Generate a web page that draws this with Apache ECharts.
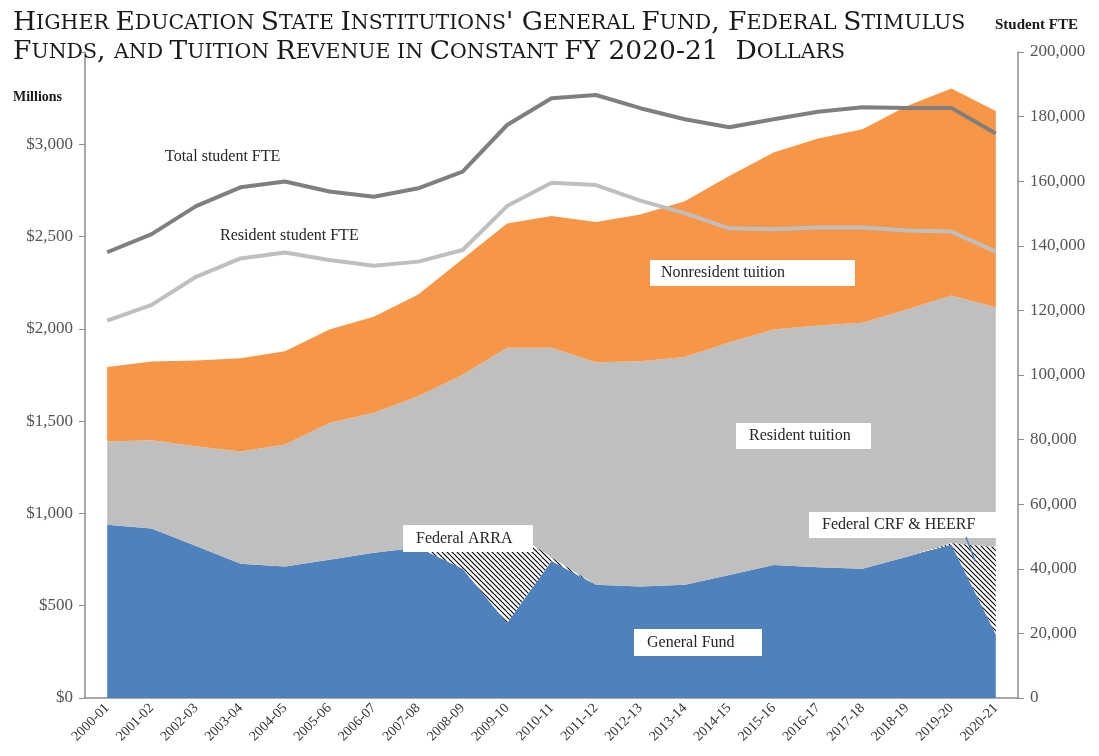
<!DOCTYPE html>
<html>
<head>
<meta charset="utf-8">
<script src="https://cdn.jsdelivr.net/npm/echarts@6/dist/echarts.min.js"></script>
<style>
  html, body { margin: 0; padding: 0; background: #fff; }
  #chart { width: 1099px; height: 756px; }
</style>
</head>
<body>
<div id="chart"></div>
<script>
const years = ["2000-01", "2001-02", "2002-03", "2003-04", "2004-05", "2005-06", "2006-07",
  "2007-08", "2008-09", "2009-10", "2010-11", "2011-12", "2012-13", "2013-14", "2014-15",
  "2015-16", "2016-17", "2017-18", "2018-19", "2019-20", "2020-21"];

// $ millions, stacked bottom to top
const generalFund = [938, 918, 823, 727, 712, 749, 787, 815, 700, 407, 742, 613, 604, 613, 667, 721, 709, 700, 765, 832, 345];
const federalStimulus = [0, 0, 0, 0, 0, 0, 0, 0, 110, 517, 20, 0, 0, 0, 0, 0, 0, 0, 0, 8, 473];
const residentTuition = [452, 478, 541, 609, 661, 741, 758, 820, 942, 973, 1135, 1206, 1220, 1235, 1259, 1275, 1309, 1333, 1340, 1341, 1299];
const nonresidentTuition = [404, 427, 464, 505, 506, 506, 520, 551, 627, 674, 714, 760, 796, 844, 902, 959, 1013, 1048, 1103, 1121, 1064];

// student FTE, right axis
const totalFTE = [138000, 143600, 152300, 158100, 159900, 156800, 155200, 157800, 163000, 177400, 185700, 186700, 182600, 179200, 176700, 179200, 181500, 182900, 182700, 182700, 174800];
const residentFTE = [116800, 121700, 130400, 136100, 137900, 135600, 133800, 135100, 138700, 152300, 159500, 158800, 154000, 150100, 145400, 145100, 145700, 145700, 144700, 144400, 138200];

const titleText = "Higher Education State Institutions' General Fund, Federal Stimulus\nFunds, and Tuition Revenue in Constant FY 2020-21  Dollars";

const serif = "'Liberation Serif', 'DejaVu Serif', serif";
const titleFont = "'DejaVu Serif', 'Liberation Serif', serif";
const axisGray = "#8c8c8c";

// fake small caps with rich text
function smallCaps(str) {
  let out = "";
  let cur = null, buf = "";
  for (const ch of str) {
    if (ch === "\n") {
      if (buf) out += "{" + cur + "|" + buf + "}";
      out += "\n"; buf = ""; cur = null;
      continue;
    }
    let cls = (ch >= "a" && ch <= "z") ? "s" : "b";
    if (ch === " " && cur) cls = cur;
    if (cls !== cur && buf) { out += "{" + cur + "|" + buf + "}"; buf = ""; }
    cur = cls;
    buf += ch.toUpperCase();
  }
  if (buf) out += "{" + cur + "|" + buf + "}";
  return out;
}

// diagonal hatch for the federal stimulus layer
function hatch() {
  const c = document.createElement("canvas");
  c.width = 5; c.height = 5;
  const g = c.getContext("2d");
  g.fillStyle = "#fff";
  g.fillRect(0, 0, 5, 5);
  g.strokeStyle = "#000";
  g.lineWidth = 1.1;
  g.beginPath();
  g.moveTo(-1, -1); g.lineTo(6, 6);
  g.moveTo(-1, 4); g.lineTo(1, 6);
  g.moveTo(4, -1); g.lineTo(6, 1);
  g.stroke();
  return c;
}

const labelFont = "16px " + serif;

function box(x, y, w, h, text, tx) {
  return [
    { type: "rect", z: 50, shape: { x: x, y: y, width: w, height: h }, style: { fill: "#fff" } },
    { type: "text", z: 51, x: x + (tx || 10), y: y + h / 2,
      style: { text: text, font: labelFont, fill: "#262626", verticalAlign: "middle" } }
  ];
}

const chart = echarts.init(document.getElementById("chart"));

function areaSeries(name, data, color) {
  return {
    name: name, type: "line", stack: "rev", data: data,
    symbol: "none", lineStyle: { width: 0 },
    areaStyle: { color: color, opacity: 1 },
    emphasis: { disabled: true }
  };
}

chart.setOption({
  animation: false,
  title: {
    left: 8, top: 4,
    text: smallCaps(titleText),
    textStyle: {
      fontFamily: titleFont, color: "#1a1a1a", fontWeight: "normal",
      rich: {
        b: { fontFamily: titleFont, fontSize: 26.5, lineHeight: 29, color: "#1a1a1a" },
        s: { fontFamily: titleFont, fontSize: 20.5, lineHeight: 29, color: "#1a1a1a" }
      }
    }
  },
  grid: { left: 85, right: 81, top: 52, bottom: 58 },
  xAxis: {
    type: "category", data: years, boundaryGap: true,
    axisLine: { lineStyle: { color: axisGray, width: 1.5 } },
    axisTick: { lineStyle: { color: axisGray }, length: 6 },
    axisLabel: { rotate: 45, fontFamily: serif, fontSize: 14, color: "#333", margin: 8, interval: 0 }
  },
  yAxis: [
    {
      type: "value", min: 0, max: 3500, interval: 500,
      axisLine: { show: true, lineStyle: { color: axisGray, width: 1.5 } },
      axisTick: { show: true, length: 6, lineStyle: { color: axisGray } },
      splitLine: { show: false },
      axisLabel: {
        fontFamily: serif, fontSize: 17, color: "#555", margin: 12,
        formatter: v => v === 3500 ? "" : "$" + v.toLocaleString("en-US")
      }
    },
    {
      type: "value", min: 0, max: 200000, interval: 20000,
      axisLine: { show: true, lineStyle: { color: axisGray, width: 1.5 } },
      axisTick: { show: true, length: 6, lineStyle: { color: axisGray } },
      splitLine: { show: false },
      axisLabel: {
        fontFamily: serif, fontSize: 17, color: "#555", margin: 12,
        formatter: v => v.toLocaleString("en-US")
      }
    }
  ],
  series: [
    areaSeries("General Fund", generalFund, "#4f81bd"),
    areaSeries("Federal stimulus", federalStimulus, { image: hatch(), repeat: "repeat" }),
    areaSeries("Resident tuition", residentTuition, "#bfbfbf"),
    areaSeries("Nonresident tuition", nonresidentTuition, "#f79646"),
    {
      name: "Total student FTE", type: "line", yAxisIndex: 1, data: totalFTE,
      symbol: "none", z: 5, lineStyle: { color: "#7f7f7f", width: 4 },
      emphasis: { disabled: true }
    },
    {
      name: "Resident student FTE", type: "line", yAxisIndex: 1, data: residentFTE,
      symbol: "none", z: 5, lineStyle: { color: "#bfbfbf", width: 4 },
      emphasis: { disabled: true }
    }
  ],
  graphic: [
    { type: "text", left: 13, top: 90, style: { text: "Millions", font: "bold 14px " + serif, fill: "#1a1a1a" } },
    { type: "text", left: 995, top: 18, style: { text: "Student FTE", font: "bold 15px " + serif, fill: "#1a1a1a" } },
    { type: "text", x: 165, y: 157, style: { text: "Total student FTE", font: labelFont, fill: "#262626", verticalAlign: "middle" } },
    { type: "text", x: 220, y: 236, style: { text: "Resident student FTE", font: labelFont, fill: "#262626", verticalAlign: "middle" } },
    ...box(650, 260, 205, 26, "Nonresident tuition", 11),
    ...box(736, 423, 135, 26, "Resident tuition", 13),
    ...box(403, 525, 130, 27, "Federal ARRA", 13),
    ...box(634, 629, 128, 27, "General Fund", 13),
    ...box(809, 512, 188, 26, "Federal CRF & HEERF", 13),
    { type: "line", z: 52, shape: { x1: 966, y1: 537, x2: 975, y2: 561 }, style: { stroke: "#4f81bd", lineWidth: 1.5 } }
  ]
});
</script>
</body>
</html>
